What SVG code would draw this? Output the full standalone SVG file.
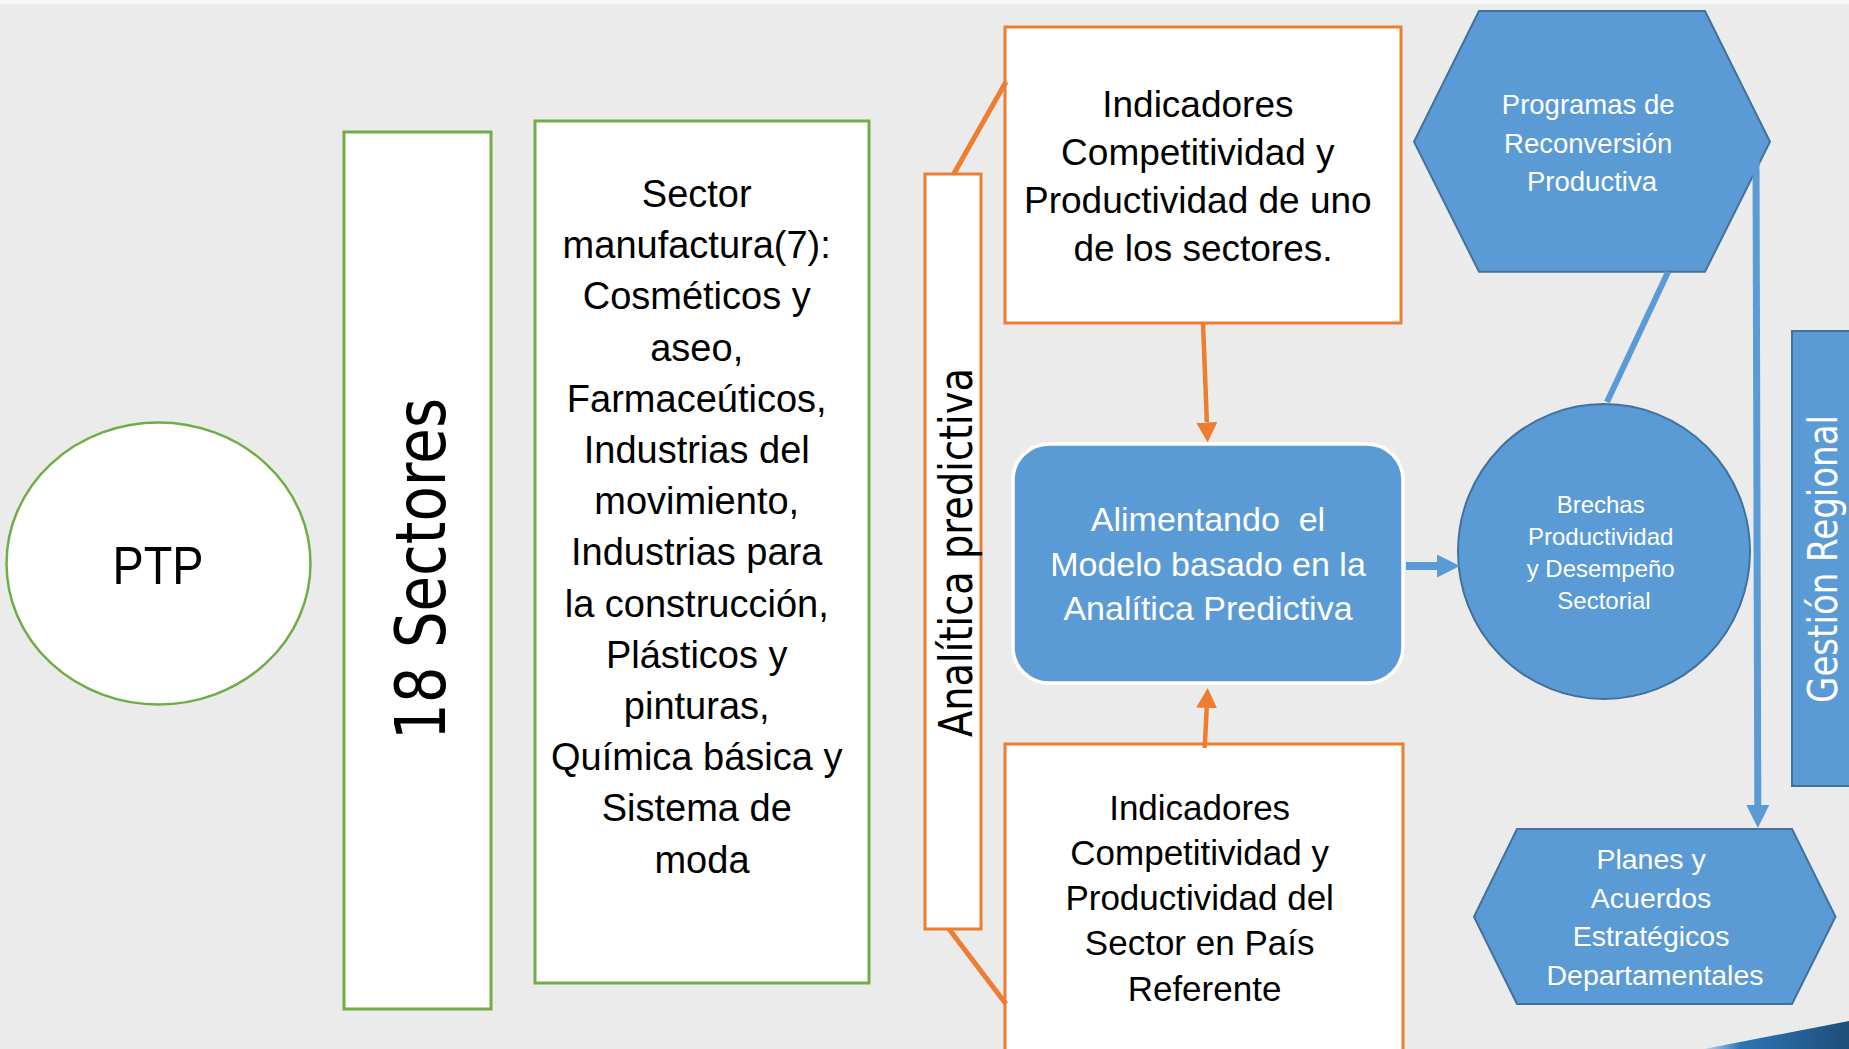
<svg xmlns="http://www.w3.org/2000/svg" width="1849" height="1049" viewBox="0 0 1849 1049">
<defs>
<style>
.bg{fill:#EBEBEB}
.green{fill:#FFFFFF;stroke:#70AD47;stroke-width:3}
.orange{fill:#FFFFFF;stroke:#ED7D31;stroke-width:3}
.blue{fill:#5B9BD5;stroke:#41719C;stroke-width:2}
.t{font-family:"Liberation Sans",Arial,sans-serif;text-anchor:middle}
.v{font-family:"DejaVu Sans",Verdana,sans-serif}
.k{fill:#000000}
.w{fill:#FFFFFF}
.oline{stroke:#ED7D31;stroke-width:5;fill:none}
.oarrow{stroke:#ED7D31;stroke-width:4.5;fill:none}
.bline{stroke:#5B9BD5;fill:none}
</style>
<marker id="arrO" markerUnits="userSpaceOnUse" markerWidth="20" markerHeight="21" refX="0" refY="10.5" orient="auto">
<path d="M0,0 L20,10.5 L0,21 Z" fill="#ED7D31"/>
</marker>
<marker id="arrB" markerUnits="userSpaceOnUse" markerWidth="23" markerHeight="23" refX="0" refY="11.5" orient="auto">
<path d="M0,0 L23,11.5 L0,23 Z" fill="#5B9BD5"/>
</marker>
<linearGradient id="stripeGrad" x1="0" y1="0" x2="1" y2="0">
<stop offset="0" stop-color="#BDD7EE"/>
<stop offset="0.25" stop-color="#2E75B6"/>
<stop offset="1" stop-color="#1F4E79"/>
</linearGradient>
</defs>

<rect class="bg" x="0" y="0" width="1849" height="1049"/>
<rect x="0" y="0" width="1849" height="4" fill="#F7F7F7"/>

<g id="ptp">
<ellipse cx="158.5" cy="563.5" rx="152" ry="141" fill="#FFFFFF" stroke="#70AD47" stroke-width="2.5"/>
<text class="t k" x="158" y="584" font-size="53" textLength="91" lengthAdjust="spacingAndGlyphs">PTP</text>
</g>

<g id="sectores">
<rect class="green" x="344" y="132" width="147" height="877"/>
<text class="v k" transform="translate(445,569) rotate(-90)" x="-171" y="0" font-size="68.6" textLength="342" lengthAdjust="spacingAndGlyphs">18 Sectores</text>
</g>

<g id="manufactura">
<rect class="green" x="535" y="121" width="334" height="862"/>
<text class="t k" font-size="38">
<tspan x="702" y="207">Sector</tspan>
<tspan x="702" y="258.2">manufactura(7):</tspan>
<tspan x="702" y="309.4">Cosméticos y</tspan>
<tspan x="702" y="360.6">aseo,</tspan>
<tspan x="702" y="411.8">Farmaceúticos,</tspan>
<tspan x="702" y="463">Industrias del</tspan>
<tspan x="702" y="514.2">movimiento,</tspan>
<tspan x="702" y="565.4">Industrias para</tspan>
<tspan x="702" y="616.6">la construcción,</tspan>
<tspan x="702" y="667.8">Plásticos y</tspan>
<tspan x="702" y="719">pinturas,</tspan>
<tspan x="702" y="770.2">Química básica y</tspan>
<tspan x="702" y="821.4">Sistema de</tspan>
<tspan x="702" y="872.6">moda</tspan>
</text>
</g>

<g id="analitica">
<rect class="orange" x="925" y="174" width="56" height="755"/>
<text class="v k" transform="translate(972,552.5) rotate(-90)" x="-184.5" y="0" font-size="46" textLength="369" lengthAdjust="spacingAndGlyphs">Analítica predictiva</text>
</g>

<g id="ind-top">
<rect class="orange" x="1005" y="27" width="396" height="296"/>
<text class="t k" font-size="37">
<tspan x="1203" y="117">Indicadores</tspan>
<tspan x="1203" y="165">Competitividad y</tspan>
<tspan x="1203" y="213">Productividad de uno</tspan>
<tspan x="1203" y="261">de los sectores.</tspan>
</text>
</g>

<g id="modelo">
<rect x="1013" y="444" width="390" height="239" rx="36" ry="36" fill="#5B9BD5" stroke="#FFFFFF" stroke-width="3.5"/>
<text class="t w" font-size="34" xml:space="preserve"><tspan x="1208" y="531">Alimentando  el</tspan><tspan x="1208" y="575.7">Modelo basado en la</tspan><tspan x="1208" y="620.3">Analítica Predictiva</tspan></text>
</g>

<g id="ind-bottom">
<rect class="orange" x="1005" y="744" width="398" height="330"/>
<text class="t k" font-size="35">
<tspan x="1204.5" y="820">Indicadores</tspan>
<tspan x="1204.5" y="865">Competitividad y</tspan>
<tspan x="1204.5" y="910">Productividad del</tspan>
<tspan x="1204.5" y="955">Sector en País</tspan>
<tspan x="1204.5" y="1000.7">Referente</tspan>
</text>
</g>

<g id="programas">
<polygon class="blue" points="1479,11 1705,11 1770,141.7 1705,271.7 1479,271.7 1414,141.7"/>
<text class="t w" font-size="27.5">
<tspan x="1592" y="114">Programas de</tspan>
<tspan x="1592" y="152.5">Reconversión</tspan>
<tspan x="1592" y="190.7">Productiva</tspan>
</text>
</g>

<g id="brechas">
<ellipse class="blue" cx="1604" cy="551.5" rx="146" ry="147.5"/>
<text class="t w" font-size="24">
<tspan x="1604" y="512.7">Brechas</tspan>
<tspan x="1604" y="545">Productividad</tspan>
<tspan x="1604" y="576.7">y Desempeño</tspan>
<tspan x="1604" y="608.7">Sectorial</tspan>
</text>
</g>

<g id="gestion">
<rect class="blue" x="1792" y="331" width="70" height="455"/>
<text class="v w" transform="translate(1837,559) rotate(-90)" x="-144" y="0" font-size="40" textLength="288" lengthAdjust="spacingAndGlyphs">Gestión Regional</text>
</g>

<g id="planes">
<polygon class="blue" points="1517,829 1792,829 1835.5,916.7 1792,1004 1517,1004 1474,916.7"/>
<text class="t w" font-size="28.5">
<tspan x="1655" y="869.4">Planes y</tspan>
<tspan x="1655" y="908">Acuerdos</tspan>
<tspan x="1655" y="946.4">Estratégicos</tspan>
<tspan x="1655" y="985">Departamentales</tspan>
</text>
</g>

<g id="connectors">
<line class="oline" x1="953.7" y1="174" x2="1006" y2="81.7"/>
<line class="oline" x1="949" y1="929" x2="1006" y2="1004"/>
<line class="oarrow" x1="1203" y1="323" x2="1206.9" y2="422.5" marker-end="url(#arrO)"/>
<line class="oarrow" x1="1204.7" y1="748" x2="1206.7" y2="708" marker-end="url(#arrO)"/>
<line class="bline" stroke-width="8" x1="1406" y1="566" x2="1437" y2="566" marker-end="url(#arrB)"/>
<line class="bline" stroke-width="6" x1="1668" y1="272" x2="1607" y2="402"/>
<line class="bline" stroke-width="7" x1="1756" y1="160" x2="1757.8" y2="805" marker-end="url(#arrB)"/>
</g>

<polygon points="1704,1049 1849,1021 1849,1049" fill="url(#stripeGrad)"/>
</svg>
